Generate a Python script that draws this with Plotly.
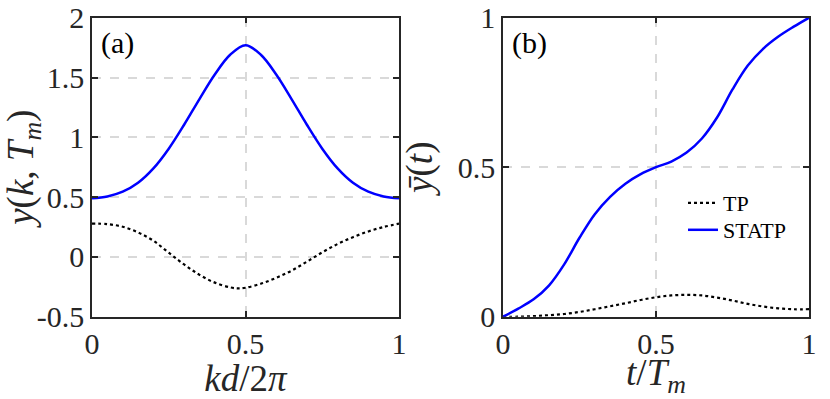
import plotly.graph_objects as go

# Panel (a)
kd = [0.00, 0.05, 0.10, 0.15, 0.20, 0.25, 0.30, 0.35, 0.40, 0.45, 0.475, 0.50,
      0.55, 0.60, 0.65, 0.70, 0.75, 0.80, 0.85, 0.90, 0.95, 1.00]
y_tp_a = [0.278, 0.274, 0.252, 0.205, 0.135, 0.035, -0.063, -0.15, -0.215, -0.255, -0.263, -0.258,
          -0.224, -0.175, -0.115, -0.04, 0.038, 0.108, 0.165, 0.213, 0.25, 0.278]
kd_s = [0.00, 0.05, 0.10, 0.15, 0.20, 0.25, 0.30, 0.35, 0.40, 0.45, 0.50,
        0.55, 0.60, 0.65, 0.70, 0.75, 0.80, 0.85, 0.90, 0.95, 1.00]
y_statp_a = [0.49, 0.505, 0.545, 0.62, 0.74, 0.905, 1.105, 1.32, 1.525, 1.69, 1.77,
             1.69, 1.525, 1.32, 1.105, 0.905, 0.74, 0.62, 0.545, 0.505, 0.49]

# Panel (b)
t = [0.00, 0.05, 0.10, 0.15, 0.20, 0.25, 0.30, 0.35, 0.40, 0.45, 0.50,
     0.55, 0.60, 0.65, 0.70, 0.75, 0.80, 0.85, 0.90, 0.95, 1.00]
y_statp_b = [0.0, 0.027, 0.058, 0.104, 0.175, 0.264, 0.343, 0.401, 0.445, 0.477, 0.50,
             0.519, 0.549, 0.596, 0.667, 0.76, 0.84, 0.896, 0.937, 0.970, 1.0]
y_tp_b = [0.0, 0.0, 0.002, 0.005, 0.009, 0.016, 0.025, 0.035, 0.045, 0.056, 0.065,
          0.071, 0.073, 0.071, 0.064, 0.054, 0.043, 0.034, 0.028, 0.025, 0.025]

xa_ticks = [0, 0.5, 1]
xa_text = ["0", "0.5", "1"]
ya_ticks = [-0.5, 0, 0.5, 1, 1.5, 2]
ya_text = ["-0.5", "0", "0.5", "1", "1.5", "2"]
yb_ticks = [0, 0.5, 1]
yb_text = ["0", "0.5", "1"]

FONT = "Times New Roman"
BLUE = "#0000FF"
INK = "#262626"

fig = go.Figure()
fig.add_trace(go.Scatter(x=kd, y=y_tp_a, mode="lines", line=dict(color="black", width=2.2, dash="dot", shape="spline"),
                         showlegend=False, xaxis="x", yaxis="y"))
fig.add_trace(go.Scatter(x=kd_s, y=y_statp_a, mode="lines", line=dict(color=BLUE, width=2.5, shape="spline"),
                         showlegend=False, xaxis="x", yaxis="y"))
fig.add_trace(go.Scatter(x=t, y=y_tp_b, mode="lines", name="TP", line=dict(color="black", width=2.2, dash="dot", shape="spline"),
                         xaxis="x2", yaxis="y2", legend="legend"))
fig.add_trace(go.Scatter(x=t, y=y_statp_b, mode="lines", name="STATP", line=dict(color=BLUE, width=2.5, shape="spline"),
                         xaxis="x2", yaxis="y2", legend="legend2"))

W, H = 830, 399
ydom = [1 - 316.7 / H, 1 - 17.7 / H]
common = dict(showline=True, linecolor=INK, linewidth=1.5, mirror="ticks", ticks="inside", ticklen=6,
              tickwidth=1.5, tickcolor=INK, showgrid=True, gridcolor="#d9d9d9", griddash="dash", gridwidth=1.5,
              zeroline=False, automargin=False, tickfont=dict(family=FONT, size=30, color=INK))
tfont = dict(family=FONT, size=37, color=INK)
legfont = dict(family=FONT, size=22, color="black")

fig.update_layout(
    width=W, height=H, margin=dict(l=0, r=0, t=0, b=0),
    paper_bgcolor="white", plot_bgcolor="white",
    font=dict(family=FONT),
    xaxis=dict(domain=[92 / W, 399 / W], range=[0, 1], tickvals=xa_ticks, ticktext=xa_text,
               title=dict(text="<i>kd</i>/2<i>π</i>", font=tfont, standoff=8), anchor="y", **common),
    yaxis=dict(domain=ydom, range=[-0.5, 2], tickvals=ya_ticks, ticktext=ya_text,
               title=dict(text="<i>y</i>(<i>k</i>, <i>T<sub>m</sub></i>)", font=tfont, standoff=4), anchor="x", **common),
    xaxis2=dict(domain=[503 / W, 809 / W], range=[0, 1], tickvals=xa_ticks, ticktext=xa_text,
                title=dict(text="<i>t</i>/<i>T<sub>m</sub></i>", font=tfont, standoff=8), anchor="y2", **common),
    yaxis2=dict(domain=ydom, range=[0, 1], tickvals=yb_ticks, ticktext=yb_text,
                title=dict(text="<i>ȳ</i>(<i>t</i>)", font=tfont, standoff=14), anchor="x2", **common),
    legend=dict(x=683 / W, y=1 - 203 / H, xanchor="left", yanchor="middle", bgcolor="rgba(0,0,0,0)",
                font=legfont, itemwidth=30),
    legend2=dict(x=683 / W, y=1 - 230 / H, xanchor="left", yanchor="middle", bgcolor="rgba(0,0,0,0)",
                 font=legfont, itemwidth=30),
    annotations=[
        dict(text="(a)", x=99 / W, y=1 - 24 / H, xref="paper", yref="paper", xanchor="left", yanchor="top",
             showarrow=False, font=dict(family=FONT, size=30, color="black")),
        dict(text="(b)", x=510 / W, y=1 - 24 / H, xref="paper", yref="paper", xanchor="left", yanchor="top",
             showarrow=False, font=dict(family=FONT, size=30, color="black")),
    ],
)

fig.write_html("out.html", config={"displayModeBar": False},
               post_script="document.body.style.margin='0';document.body.style.padding='0';")
